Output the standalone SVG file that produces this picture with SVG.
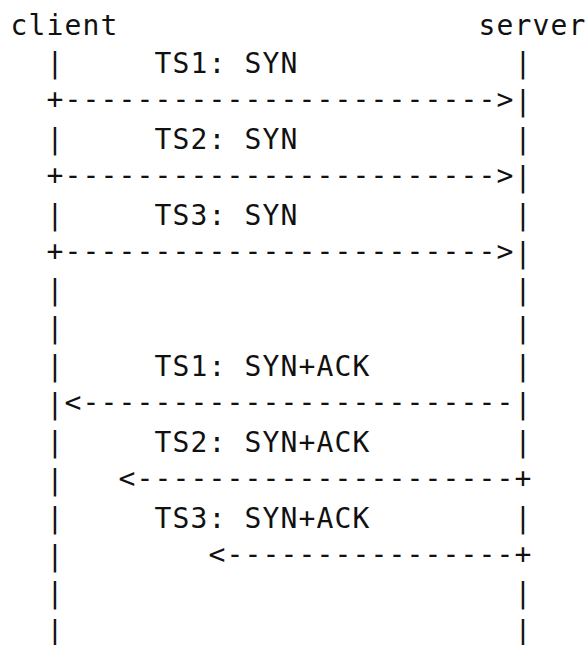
<svg xmlns="http://www.w3.org/2000/svg" width="587" height="645" viewBox="0 0 587 645">
<style>
text{font-family:"DejaVu Sans Mono","Liberation Mono",monospace;font-size:28px;letter-spacing:1.144px;fill:#111;white-space:pre}
</style>
<rect width="587" height="645" fill="#fff"/>
<g id="client">
<text x="10.57" y="35.3">client</text>
<text x="46.57" y="73.2">|</text>
<text x="46.57" y="148.9">|</text>
<text x="46.57" y="224.7">|</text>
<text x="46.57" y="300.4">|</text>
<text x="46.57" y="338.3">|</text>
<text x="46.57" y="376.1">|</text>
<text x="46.57" y="414.0">|</text>
<text x="46.57" y="451.9">|</text>
<text x="46.57" y="489.7">|</text>
<text x="46.57" y="527.6">|</text>
<text x="46.57" y="565.5">|</text>
<text x="46.57" y="603.4">|</text>
<text x="46.57" y="641.2">|</text>
</g>
<g id="server">
<text x="478.57" y="35.3">server</text>
<text x="514.57" y="73.2">|</text>
<text x="514.57" y="111.0">|</text>
<text x="514.57" y="148.9">|</text>
<text x="514.57" y="186.8">|</text>
<text x="514.57" y="224.7">|</text>
<text x="514.57" y="262.5">|</text>
<text x="514.57" y="300.4">|</text>
<text x="514.57" y="338.3">|</text>
<text x="514.57" y="376.1">|</text>
<text x="514.57" y="414.0">|</text>
<text x="514.57" y="451.9">|</text>
<text x="514.57" y="527.6">|</text>
<text x="514.57" y="603.4">|</text>
<text x="514.57" y="641.2">|</text>
</g>
<g id="connectors">
<text x="154.57" y="73.2">TS1: SYN</text>
<text x="46.57" y="109.0">+------------------------&gt;</text>
<text x="154.57" y="148.9">TS2: SYN</text>
<text x="46.57" y="184.8">+------------------------&gt;</text>
<text x="154.57" y="224.7">TS3: SYN</text>
<text x="46.57" y="260.5">+------------------------&gt;</text>
<text x="154.57" y="376.1">TS1: SYN+ACK</text>
<text x="64.57" y="412.0">&lt;------------------------</text>
<text x="154.57" y="451.9">TS2: SYN+ACK</text>
<text x="118.57" y="487.7">&lt;---------------------+</text>
<text x="154.57" y="527.6">TS3: SYN+ACK</text>
<text x="208.57" y="563.5">&lt;----------------+</text>
</g>
</svg>
